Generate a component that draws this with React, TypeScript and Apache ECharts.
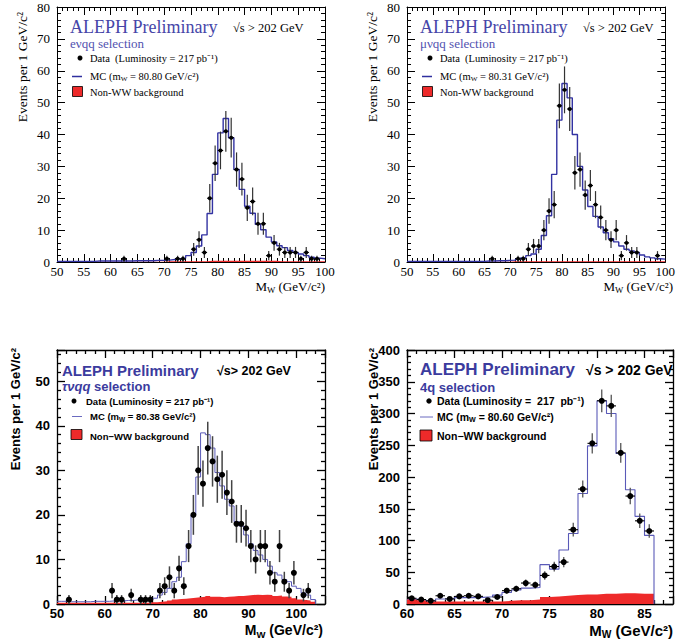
import React, { useEffect, useRef } from "react";
import * as echarts from "echarts";

// ---------------- data (bin width 1 GeV/c^2) ----------------
// Panel 1: e nu qq  (bins 50..99)
const E_START = 50;
const eMC = [0.2,0.2,0.2,0.2,0.2,0.2,0.2,0.3,0.3,0.3,0.3,0.3,0.3,0.3,0.4,0.4,0.4,0.4,0.5,0.5,
  0.6,0.8,1.0,1.2,2.0,3.0,5.0,8.5,15.2,27.5,
  40.5,45,39,29,22.8,17.5,15.3,11.8,10.1,7.8,
  6.3,5.1,4.5,3.6,3.0,2.5,2.0,1.5,1.2,1.0];
const eBkg = [0.1,0.1,0.1,0.1,0.1,0.1,0.1,0.1,0.1,0.1,0.1,0.1,0.1,0.1,0.1,0.1,0.1,0.1,0.1,0.1,
  0.2,0.2,0.2,0.2,0.2,0.2,0.2,0.2,0.4,0.4,
  0.4,0.4,0.4,0.4,0.4,0.4,0.4,0.4,0.4,0.4,
  0.4,0.2,0.2,0.2,0.2,0.2,0.2,0.2,0.2,0.2];
const eDataX = [62.5,70.5,72.5,73.5,75.5,76.5,77.5,78.5,79.5,80.5,81.5,82.5,83.5,84.5,85.5,86.5,87.5,88.5,89.5,90.5,91.5,92.5,93.5,94.5,95.5,96.5,97.5,98.5];
const eDataY = [1,1,1,1,4,7,3,20,31,35,41,39,29,26,17,19,12,12,2,6,4,3,3,3,1,3,1,1];

// Panel 2: mu nu qq (bins 50..99)
const M_START = 50;
const mMC = [0.2,0.2,0.2,0.2,0.2,0.2,0.2,0.2,0.2,0.2,0.2,0.2,0.2,0.2,0.2,0.3,0.3,0.4,0.4,0.5,
  0.6,0.9,1.3,2.0,2.5,4.0,8.3,14.5,27.5,44.5,
  56,51.5,40,30,22.6,17.4,14.3,11,9.2,7.3,
  6.3,5,4,3.5,3,2.2,1.6,1.3,1.0,0.9];
const mBkg = [0.1,0.1,0.1,0.1,0.1,0.1,0.1,0.1,0.1,0.1,0.1,0.1,0.1,0.1,0.1,0.1,0.1,0.1,0.1,0.1,
  0.2,0.2,0.2,0.2,0.2,0.2,0.2,0.2,0.2,0.2,
  0.2,0.2,0.2,0.2,0.2,0.2,0.2,0.2,0.2,0.2,
  0.2,0.2,0.2,0.2,0.2,0.2,0.2,0.2,0.2,0.2];
const mDataX = [66.5,71.5,72.5,73.5,74.5,75.5,76.5,77.5,78.5,79.5,80.5,81.5,82.5,83.5,84.5,85.5,86.5,87.5,88.5,89.5,90.5,91.5,92.5,93.5,94.5,98.5];
const mDataY = [1,1,1,4,5,5,10,16,18,49,54,48,28,29,21,24,18,14,10,7,10,2,6,3,3,2];

// Panel 3: tau nu qq (bins 50..103)
const T_START = 50;
const tMC = [0.6,0.6,0.5,0.5,0.5,0.5,0.5,0.6,0.6,0.6,
  0.6,0.7,0.7,0.7,0.8,0.8,0.9,0.9,1.0,1.0,
  1.3,2.0,2.6,3.5,5.0,6.0,9.5,13.5,20,28.5,
  38.4,38,35,29.5,26.5,23.5,22,18.5,17.5,15.5,
  13.5,12,11,10,8.5,7,6.5,5.5,5,4,
  3.5,2.5,2,1];
const tBkg = [0.3,0.3,0.3,0.3,0.3,0.3,0.3,0.3,0.3,0.3,
  0.3,0.3,0.3,0.3,0.3,0.3,0.3,0.3,0.3,0.4,
  0.4,0.5,0.6,0.8,1.0,1.1,1.2,1.3,1.4,1.5,
  1.6,1.8,1.6,1.6,1.5,1.6,1.7,1.8,1.8,1.9,
  2.0,2.1,2.0,2.1,2.0,1.8,1.9,1.7,1.6,1.3,
  1.0,0.9,0.8,0.5];
const tDataX = [52.5,61.5,62.5,63.5,65.5,67.5,68.5,69.5,71.5,72.5,73.5,74.5,75.5,76.5,77.5,78.5,79.5,80.5,81.5,82.5,83.5,84.5,85.5,86.5,87.5,88.5,89.5,90.5,91.5,92.5,93.5,94.5,95.5,96.5,97.5,98.5,99.5,101.5,102.5];
const tDataY = [1,3,1,1,2,1,1,1,3,4,6,3,8,4,13,20,30,27,35,32,28,29,25,23,18,18,17,13,10,13,13,7,5,13,5,3,7,2,3];

// Panel 4: 4q (bins 60..85)
const Q_START = 60;
const qMC = [7.9,6.8,5.2,7.9,8.4,10,10,10.5,11.5,14,
  18,22,25,26,62,55,85,111,174,249,
  320,300,237,180,138,108];
const qBkg = [8,6,4,4,4,4,4,4,4,4,
  5,6,6,7,11,12,13,14,15,15,
  16,16,17,17,16,16];
const qDataX = [60.5,61.5,62.5,63.5,64.5,65.5,66.5,67.5,68.5,69.5,70.5,71.5,72.5,73.5,74.5,75.5,76.5,77.5,78.5,79.5,80.5,81.5,82.5,83.5,84.5,85.5];
const qDataY = [9,7,5,13,8,12,13,12,6,11,21,24,33,30,45,59,66,117,181,253,320,312,238,170,131,115];

// ---------------- styling ----------------
const SERIF = "Liberation Serif";
const SANS = "Liberation Sans";
const RED = "#ee2a2a";

function stepPts(start: number, vals: number[], close: boolean) {
  const pts: number[][] = vals.map((v, i) => [start + i, v]);
  pts.push([start + vals.length, vals[vals.length - 1]]);
  if (close) pts.push([start + vals.length, 0]);
  return pts;
}

type AxSpec = { min: number; max: number; interval: number; minor: number };

function makeAxes(gi: number, xs: AxSpec, ys: AxSpec, serif: boolean) {
  const lab = {
    color: "#000",
    fontFamily: serif ? SERIF : SANS,
    fontWeight: serif ? "normal" : "bold",
    fontSize: 13,
  };
  const lw = serif ? 1 : 1.3;
  const common = (s: AxSpec) => ({
    gridIndex: gi,
    type: "value",
    min: s.min,
    max: s.max,
    interval: s.interval,
    axisLine: { show: true, onZero: false, lineStyle: { color: "#000", width: lw } },
    axisTick: { show: true, inside: true, length: 8, lineStyle: { color: "#000", width: lw } },
    minorTick: { show: true, splitNumber: s.minor, length: 4, lineStyle: { color: "#000", width: lw } },
    splitLine: { show: false },
    minorSplitLine: { show: false },
  });
  const fmt = (s: AxSpec) => (v: number) =>
    Math.abs((v - s.min) / s.interval - Math.round((v - s.min) / s.interval)) < 1e-6 ? String(v) : "";
  const xb = { ...common(xs), position: "bottom", axisLabel: { ...lab, margin: 3, formatter: fmt(xs) } };
  const xt = { ...common(xs), position: "top", axisLabel: { show: false } };
  const yl = { ...common(ys), position: "left", axisLabel: { ...lab, margin: 7, formatter: fmt(ys) } };
  const yr = { ...common(ys), position: "right", axisLabel: { show: false } };
  return { x: [xb, xt], y: [yl, yr] };
}

function dataSeries(gi: number, xs: number[], ys: number[], o: { r: number; err: string; ew: number; hbar: boolean }) {
  return {
    type: "custom",
    xAxisIndex: gi * 2,
    yAxisIndex: gi * 2,
    clip: true,
    z: 5,
    silent: true,
    data: xs.map((x, i) => [x, ys[i]]),
    renderItem: (_p: any, api: any) => {
      const x = api.value(0);
      const y = api.value(1);
      const e = Math.sqrt(y);
      const c = api.coord([x, y]);
      const t = api.coord([x, y + e]);
      const b = api.coord([x, Math.max(0, y - e)]);
      const hw = api.size([0.5, 0])[0];
      const children: any[] = [
        { type: "line", shape: { x1: c[0], y1: t[1], x2: c[0], y2: b[1] }, style: { stroke: o.err, lineWidth: o.ew } },
      ];
      if (o.hbar)
        children.push({ type: "line", shape: { x1: c[0] - hw, y1: c[1], x2: c[0] + hw, y2: c[1] }, style: { stroke: "#000", lineWidth: 1.1 } });
      children.push({ type: "circle", shape: { cx: c[0], cy: c[1], r: o.r }, style: { fill: "#000" } });
      return { type: "group", children };
    },
  };
}

function histSeries(gi: number, start: number, mc: number[], bkg: number[], close: boolean, mcColor: string, mcW: number) {
  return [
    {
      type: "line",
      xAxisIndex: gi * 2,
      yAxisIndex: gi * 2,
      data: stepPts(start, bkg, close),
      step: "end",
      symbol: "none",
      silent: true,
      z: 2,
      lineStyle: { width: 0, opacity: 0 },
      areaStyle: { color: RED, opacity: 1 },
    },
    {
      type: "line",
      xAxisIndex: gi * 2,
      yAxisIndex: gi * 2,
      data: stepPts(start, mc, close),
      step: "end",
      symbol: "none",
      silent: true,
      z: 3,
      lineStyle: { color: mcColor, width: mcW },
    },
  ];
}

function txt(x: number, y: number, text: string, o: any) {
  const base = {
    fontSize: o.size,
    fontFamily: o.family,
    fontWeight: o.weight || "normal",
    fontStyle: o.fstyle || "normal",
    fill: o.fill || "#000",
  };
  const rich = o.rich
    ? {
        n: { ...base, lineHeight: o.size * 1.3 },
        i: { ...base, fontStyle: "italic", lineHeight: o.size * 1.3 },
        sub: { ...base, fontSize: o.size * 0.68, lineHeight: o.size * 0.68, verticalAlign: "bottom" },
      }
    : undefined;
  return {
    type: "text",
    x,
    y,
    rotation: o.rotation || 0,
    silent: true,
    z: 100,
    style: {
      ...base,
      text,
      rich,
      align: o.align || "left",
      textAlign: o.align || "left",
      verticalAlign: "middle",
      textVerticalAlign: "middle",
    },
  };
}

function topPanelGraphics(dx: number, sel: string, mass: string) {
  const f = SERIF;
  return [
    txt(70 + dx, 27, "ALEPH Preliminary", { size: 18, family: f, fill: "#4646a8" }),
    txt(233 + dx, 28, "√s > 202 GeV", { size: 12.5, family: f }),
    txt(70 + dx, 43, sel, { size: 13, family: f, fill: "#5252b0" }),
    { type: "circle", silent: true, z: 100, shape: { cx: 80 + dx, cy: 58, r: 2.5 }, style: { fill: "#000" } },
    txt(90 + dx, 58, "Data  (Luminosity = 217 pb⁻¹)", { size: 10.5, family: f }),
    { type: "line", silent: true, z: 100, shape: { x1: 72 + dx, y1: 76.5, x2: 82 + dx, y2: 76.5 }, style: { stroke: "#2f2f9f", lineWidth: 1.5 } },
    txt(90 + dx, 76, `{n|MC (m}{sub|W}{n| = ${mass} GeV/c²)}`, { size: 10.5, family: f, rich: true }),
    { type: "rect", silent: true, z: 100, shape: { x: 72.5 + dx, y: 86.5, width: 10, height: 10 }, style: { fill: RED, stroke: "#000", lineWidth: 0.8 } },
    txt(90 + dx, 92, "Non-WW background", { size: 10.5, family: f }),
    txt(22 + dx, 12, "Events per 1 GeV/c²", { size: 13.5, family: f, align: "right", rotation: Math.PI / 2 }),
    txt((dx ? 673 : 325), 286, "{n|M}{sub|W}{n| (GeV/c²)}", { size: 13, family: f, align: "right", rich: true }),
  ];
}

function App() {
  const ref = useRef<HTMLDivElement>(null);
  useEffect(() => {
    document.body.style.margin = "0";
    if (!ref.current) return;
    const chart = echarts.init(ref.current, undefined, { renderer: "svg" });

    const a0 = makeAxes(0, { min: 50, max: 100, interval: 5, minor: 5 }, { min: 0, max: 80, interval: 10, minor: 5 }, true);
    const a1 = makeAxes(1, { min: 50, max: 100, interval: 5, minor: 5 }, { min: 0, max: 80, interval: 10, minor: 5 }, true);
    const a2 = makeAxes(2, { min: 50, max: 106, interval: 10, minor: 5 }, { min: 0, max: 57, interval: 10, minor: 5 }, false);
    const a3 = makeAxes(3, { min: 60, max: 88, interval: 5, minor: 5 }, { min: 0, max: 400, interval: 50, minor: 5 }, false);

    const S = SANS;
    const bottomBlue = "#3b3b9e";
    const graphics: any[] = [
      ...topPanelGraphics(0, "eνqq selection", "80.80"),
      ...topPanelGraphics(350, "μνqq selection", "80.31"),
      // panel 3
      txt(62, 370, "ALEPH Preliminary", { size: 15, family: S, weight: "bold", fill: bottomBlue }),
      txt(217, 371, "√s> 202 GeV", { size: 12.5, family: S, weight: "bold" }),
      txt(62, 386.5, "{i|τνqq}{n| selection}", { size: 13, family: S, weight: "bold", fill: bottomBlue, rich: true }),
      { type: "circle", silent: true, z: 100, shape: { cx: 74, cy: 401, r: 2.5 }, style: { fill: "#000" } },
      txt(86, 401, "Data (Luminosity = 217 pb⁻¹)", { size: 9.5, family: S, weight: "bold" }),
      { type: "line", silent: true, z: 100, shape: { x1: 72, y1: 416.5, x2: 82, y2: 416.5 }, style: { stroke: "#6a6ac0", lineWidth: 1 } },
      txt(90, 416.5, "{n|MC (m}{sub|W}{n| = 80.38 GeV/c²)}", { size: 9.5, family: S, weight: "bold", rich: true }),
      { type: "rect", silent: true, z: 100, shape: { x: 71, y: 429.5, width: 11, height: 10 }, style: { fill: RED, stroke: "#000", lineWidth: 0.8 } },
      txt(90, 436, "Non−WW background", { size: 9.5, family: S, weight: "bold" }),
      txt(15, 348, "Events per 1 GeV/c²", { size: 13, family: S, weight: "bold", align: "right", rotation: Math.PI / 2 }),
      txt(323, 630, "{n|M}{sub|W}{n| (GeV/c²)}", { size: 14, family: S, weight: "bold", align: "right", rich: true }),
      // panel 4
      txt(420, 369.5, "ALEPH Preliminary", { size: 17, family: S, weight: "bold", fill: bottomBlue }),
      txt(586, 370, "√s > 202 GeV", { size: 14, family: S, weight: "bold" }),
      txt(420, 387.5, "4q selection", { size: 13, family: S, weight: "bold", fill: bottomBlue }),
      { type: "circle", silent: true, z: 100, shape: { cx: 429, cy: 401, r: 2.7 }, style: { fill: "#000" } },
      txt(437, 401, "Data (Luminosity =  217  pb⁻¹)", { size: 10.5, family: S, weight: "bold" }),
      { type: "line", silent: true, z: 100, shape: { x1: 420, y1: 417, x2: 433, y2: 417 }, style: { stroke: "#6a6ac0", lineWidth: 1 } },
      txt(437, 417, "{n|MC (m}{sub|W}{n| = 80.60 GeV/c²)}", { size: 10.5, family: S, weight: "bold", rich: true }),
      { type: "rect", silent: true, z: 100, shape: { x: 420, y: 430, width: 12, height: 11 }, style: { fill: RED, stroke: "#000", lineWidth: 0.8 } },
      txt(437, 436, "Non−WW background", { size: 10.5, family: S, weight: "bold" }),
      txt(373, 348, "Events per 1 GeV/c²", { size: 13, family: S, weight: "bold", align: "right", rotation: Math.PI / 2 }),
      txt(673, 630, "{n|M}{sub|W}{n| (GeV/c²)}", { size: 15, family: S, weight: "bold", align: "right", rich: true }),
    ];

    chart.setOption({
      animation: false,
      backgroundColor: "#fff",
      grid: [
        { left: 57, top: 7, width: 268, height: 255 },
        { left: 407, top: 7, width: 265, height: 255 },
        { left: 57, top: 350, width: 268, height: 254 },
        { left: 407, top: 350, width: 266, height: 254 },
      ],
      xAxis: [...a0.x, ...a1.x, ...a2.x, ...a3.x],
      yAxis: [...a0.y, ...a1.y, ...a2.y, ...a3.y],
      series: [
        ...histSeries(0, E_START, eMC, eBkg, false, "#3232a2", 1.4),
        dataSeries(0, eDataX, eDataY, { r: 2, err: "#333", ew: 1.2, hbar: true }),
        ...histSeries(1, M_START, mMC, mBkg, false, "#3232a2", 1.4),
        dataSeries(1, mDataX, mDataY, { r: 2, err: "#333", ew: 1.2, hbar: true }),
        ...histSeries(2, T_START, tMC, tBkg, true, "#5a5ab8", 1),
        dataSeries(2, tDataX, tDataY, { r: 3, err: "#444", ew: 1.5, hbar: false }),
        ...histSeries(3, Q_START, qMC, qBkg, true, "#5a5ab8", 1.1),
        dataSeries(3, qDataX, qDataY, { r: 3, err: "#555", ew: 1.3, hbar: true }),
      ],
      graphic: { elements: graphics },
    });
    return () => chart.dispose();
  }, []);
  return <div ref={ref} style={{ width: 678, height: 641 }} />;
}

export default App;
